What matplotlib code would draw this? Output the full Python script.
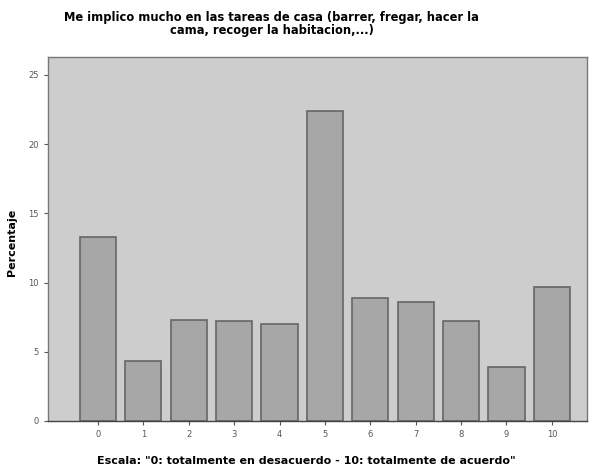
import matplotlib
matplotlib.use('Agg')
import matplotlib.pyplot as plt

# valores
categorias = ['0', '1', '2', '3', '4', '5', '6', '7', '8', '9', '10']
porcentajes = [13.3, 4.3, 7.3, 7.2, 7.0, 22.4, 8.9, 8.6, 7.2, 3.9, 9.7]
yticks = [0, 5, 10, 15, 20, 25]

titulo = 'Me implico mucho en las tareas de casa (barrer, fregar, hacer la\ncama, recoger la habitacion,...)'
etiqueta_x = 'Escala: "0: totalmente en desacuerdo - 10: totalmente de acuerdo"'
etiqueta_y = 'Percentaje'


def main():
    fig = plt.figure(figsize=(5.97, 4.70), dpi=100)
    ax = fig.add_axes([0.0804, 0.1043, 0.9026, 0.7745])
    ax.set_facecolor('#cdcdcd')

    x = list(range(len(categorias)))
    ax.bar(x, porcentajes, width=0.8, color='#a7a7a7', edgecolor='#666666', linewidth=1.2)

    ax.set_xlim(-1.1, 10.77)
    ax.set_ylim(0, 26.3)
    ax.set_xticks(x)
    ax.set_xticklabels(categorias)
    ax.set_yticks(yticks)
    ax.tick_params(axis='both', labelsize=6, colors='#555555', length=3, width=0.8)

    for s in ax.spines.values():
        s.set_color('#777777')
        s.set_linewidth(1.0)
    ax.spines['bottom'].set_color('#444444')

    fig.text(0.455, 0.948, titulo, ha='center', va='center', fontsize=8.3,
             fontweight='bold', linespacing=1.0)
    ax.set_xlabel(etiqueta_x, fontsize=8, fontweight='bold')
    ax.xaxis.set_label_coords(0.48, -0.095)
    ax.set_ylabel(etiqueta_y, fontsize=8, fontweight='bold')
    ax.yaxis.set_label_coords(-0.058, 0.49)

    fig.savefig('out.png', dpi=100)


if __name__ == '__main__':
    main()
